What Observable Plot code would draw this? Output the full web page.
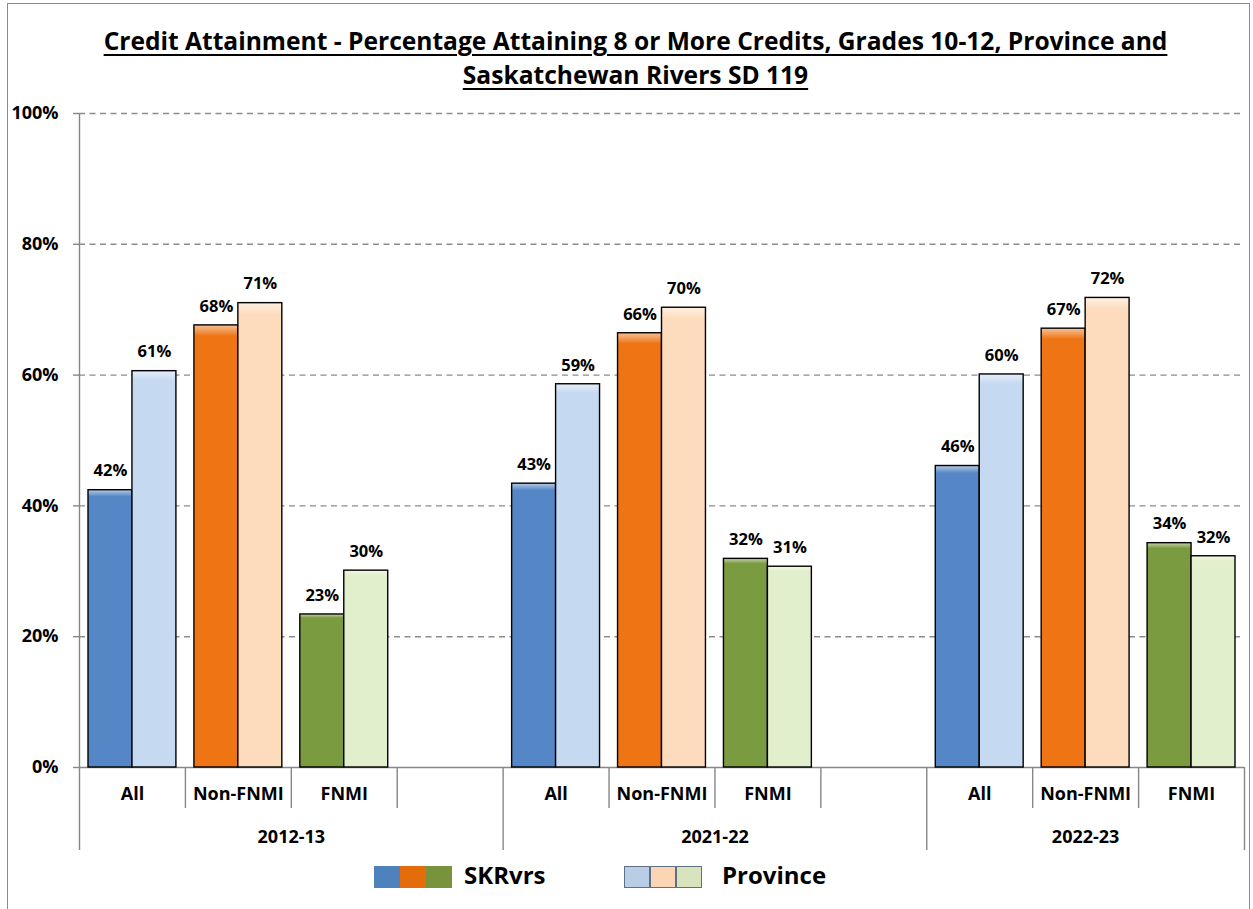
<!DOCTYPE html>
<html>
<head>
<meta charset="utf-8">
<script src="https://cdn.jsdelivr.net/npm/d3@7"></script>
<script src="https://cdn.jsdelivr.net/npm/@observablehq/plot@0.6"></script>
<style>
  html, body { margin: 0; padding: 0; background: #fff; }
  #page { position: relative; width: 1253px; height: 909px; overflow: hidden; font-family: "Open Sans", Lato, "Liberation Sans", sans-serif; }
  #frame { position: absolute; left: 7px; top: 3px; width: 1243px; height: 930px; border: 1.5px solid #8a8a8a; box-sizing: border-box; }
  #title { position: absolute; left: 18px; right: 0; top: 24px; text-align: center; font-weight: bold; text-decoration: underline; text-underline-offset: 4px; text-decoration-thickness: 2px; line-height: 34px; color: #000; white-space: nowrap; }
  #chart { position: absolute; left: 0; top: 100px; }
  #legend { position: absolute; top: 866px; left: 0; width: 1253px; height: 24px; font-weight: bold; }
  .sw { position: absolute; top: 0; width: 26px; height: 22px; box-sizing: border-box; }
  .lt { position: absolute; top: -6px; font-size: 24px; line-height: 30px; }
</style>
</head>
<body>
<div id="page">
  <div id="frame"></div>
  <div id="title"><span id="t1">Credit Attainment - Percentage Attaining 8 or More Credits, Grades 10-12, Province and</span><br><span id="t2">Saskatchewan Rivers SD 119</span></div>
  <svg width="0" height="0" style="position:absolute">
    <defs id="grads"></defs>
  </svg>
  <div id="chart"></div>
  <div id="legend"></div>
</div>
<script>
// ---- data ----
const years = ["2012-13", "2021-22", "2022-23"];
const groups = ["All", "Non-FNMI", "FNMI"];
const seriesNames = ["SKRvrs", "Province"];
const skrvrs   = [42.4, 67.6, 23.4, 43.4, 66.4, 31.9, 46.1, 67.1, 34.3];
const province = [60.6, 71.0, 30.1, 58.6, 70.3, 30.7, 60.1, 71.8, 32.3];
const yTicks = [0, 20, 40, 60, 80, 100];
const skColors = ["#5587C6", "#EE7414", "#7B9B41"];
const provColors = ["#C5D9F1", "#FDDCBD", "#E2EFCC"];
const skLegend = ["#4F81BD", "#E46C0A", "#77933C"];
const provLegend = ["#B9CDE5", "#FCD5B5", "#D7E4BD"];

// slots: each year has its groups plus an empty spacer slot (except the last year)
const slots = [];
years.forEach((yr, i) => {
  groups.forEach(g => slots.push(`${yr}|${g}`));
  if (i < years.length - 1) slots.push(`${yr}|gap`);
});

const rows = [];
years.forEach((yr, i) => groups.forEach((g, j) => {
  const k = i * groups.length + j;
  rows.push({slot: `${yr}|${g}`, year: yr, group: g, series: "SKRvrs", value: skrvrs[k]});
  rows.push({slot: `${yr}|${g}`, year: yr, group: g, series: "Province", value: province[k]});
}));
const skRows = rows.filter(d => d.series === "SKRvrs");
const provRows = rows.filter(d => d.series === "Province");
const catSlots = slots.filter(s => !s.endsWith("|gap"));

// ---- gradients (bevel-like highlight at the top of each bar) ----
function lighten(c, k) { return d3.interpolateRgb(c, "#ffffff")(k); }
const defs = document.getElementById("grads");
const colorDomain = [], colorRange = [];
groups.forEach((g, j) => {
  [["SKRvrs", skColors[j]], ["Province", provColors[j]]].forEach(([s, c], n) => {
    const id = `g${j}${n}`;
    defs.insertAdjacentHTML("beforeend",
      `<linearGradient id="${id}" x1="0" y1="0" x2="0" y2="1">
         <stop offset="0" stop-color="${lighten(c, 0.55)}"/>
         <stop offset="0.012" stop-color="${lighten(c, 0.3)}"/>
         <stop offset="0.025" stop-color="${c}"/>
         <stop offset="1" stop-color="${c}"/>
       </linearGradient>`);
    colorDomain.push(`${s}|${g}`); colorRange.push(`url(#${id})`);
  });
});

// ---- layout ----
const W = 1253, H = 755;
const mL = 79, mR = 9, mT = 13, mB = 88;
const pIn = 0.585;
const step = (W - mL - mR) / slots.length;
const bw = step * (1 - pIn);

const firstSlots = years.map(yr => slots.find(s => s.startsWith(yr)));
const lastSlot = slots[slots.length - 1];
const shortSeps = slots.filter(s => !firstSlots.includes(s));
const yearLabel = years.map(yr => {
  const ys = slots.filter(s => s.startsWith(yr));
  const mid = (ys.length - 1) / 2;
  const idx = Math.floor(mid);
  return {slot: ys[idx], year: yr, half: mid !== idx};
});

const gray = "#878787";
const font = "'Open Sans', Lato, 'Liberation Sans', sans-serif";
const lab = {fontWeight: "bold", fill: "#000"};

const chart = Plot.plot({
  width: W, height: H,
  marginLeft: mL, marginRight: mR, marginTop: mT, marginBottom: mB,
  style: {fontFamily: font, fontWeight: "bold", fontSize: "18px", color: "#000", background: "transparent"},
  x: {type: "band", domain: slots, paddingInner: pIn, paddingOuter: pIn / 2, round: false, axis: null},
  y: {domain: [0, 100], axis: null},
  color: {domain: colorDomain, range: colorRange},
  marks: [
    Plot.ruleY(yTicks.filter(t => t > 0), {y: d => d, stroke: "#8c8c8c", strokeWidth: 1.4, strokeDasharray: "6,4.5"}),
    Plot.ruleY([0], {stroke: gray, strokeWidth: 1.4}),
    Plot.axisY({ticks: yTicks, tickFormat: d => d + "%", label: null, tickSize: 6, tickPadding: 15, stroke: gray, strokeWidth: 1.4, fontSize: 18, ...lab}),
    // y axis line + group separators below baseline
    Plot.ruleX([slots[0]], {x: d => d, y1: 100, y2: 0, dx: -step / 2, insetBottom: -83, stroke: gray, strokeWidth: 1.4}),
    Plot.ruleX(firstSlots.slice(1), {x: d => d, y1: 0, y2: 0, dx: -step / 2, insetBottom: -83, stroke: gray, strokeWidth: 1.4}),
    Plot.ruleX([lastSlot], {x: d => d, y1: 0, y2: 0, dx: step / 2, insetBottom: -83, stroke: gray, strokeWidth: 1.4}),
    Plot.ruleX(shortSeps, {x: d => d, y1: 0, y2: 0, dx: -step / 2, insetBottom: -41, stroke: gray, strokeWidth: 1.4}),
    // bars
    Plot.barY(skRows, {x: "slot", y: "value", fill: d => `${d.series}|${d.group}`, stroke: "#000", strokeWidth: 1.4, dx: -bw / 2}),
    Plot.barY(provRows, {x: "slot", y: "value", fill: d => `${d.series}|${d.group}`, stroke: "#000", strokeWidth: 1.4, dx: bw / 2}),
    // value labels
    Plot.text(skRows, {x: "slot", y: "value", text: d => Math.round(d.value) + "%", dx: -bw / 2, dy: -19, fontSize: 16.5, ...lab}),
    Plot.text(provRows, {x: "slot", y: "value", text: d => Math.round(d.value) + "%", dx: bw / 2, dy: -19, fontSize: 16.5, ...lab}),
    // category labels
    Plot.text(catSlots, {x: d => d, y: 0, dy: 27, text: d => d.split("|")[1], fontSize: 18, ...lab}),
    // year labels
    Plot.text(yearLabel.filter(d => d.half), {x: "slot", y: 0, dy: 70, dx: step / 2, text: "year", fontSize: 18, ...lab}),
    Plot.text(yearLabel.filter(d => !d.half), {x: "slot", y: 0, dy: 70, text: "year", fontSize: 18, ...lab})
  ]
});
document.getElementById("chart").appendChild(chart);

// ---- legend ----
const legend = document.getElementById("legend");
function addSwatches(x0, cols, border) {
  cols.forEach((c, i) => {
    const s = document.createElement("div");
    s.className = "sw";
    s.style.left = (x0 + i * 26) + "px";
    s.style.background = c;
    if (border) s.style.border = "1px solid " + border;
    legend.appendChild(s);
  });
}
function addText(x, t) {
  const s = document.createElement("div");
  s.className = "lt"; s.style.left = x + "px"; s.textContent = t;
  legend.appendChild(s);
}
addSwatches(374, skLegend, null);
addText(464, seriesNames[0]);
addSwatches(624, provLegend, "#5f6f86");
addText(722, seriesNames[1]);

// ---- fit title width ----
const t1 = document.getElementById("t1");
const title = document.getElementById("title");
let fs = 26;
title.style.fontSize = fs + "px";
const w = t1.getBoundingClientRect().width;
fs = fs * 1064 / w;
title.style.fontSize = fs.toFixed(2) + "px";
</script>
</body>
</html>
